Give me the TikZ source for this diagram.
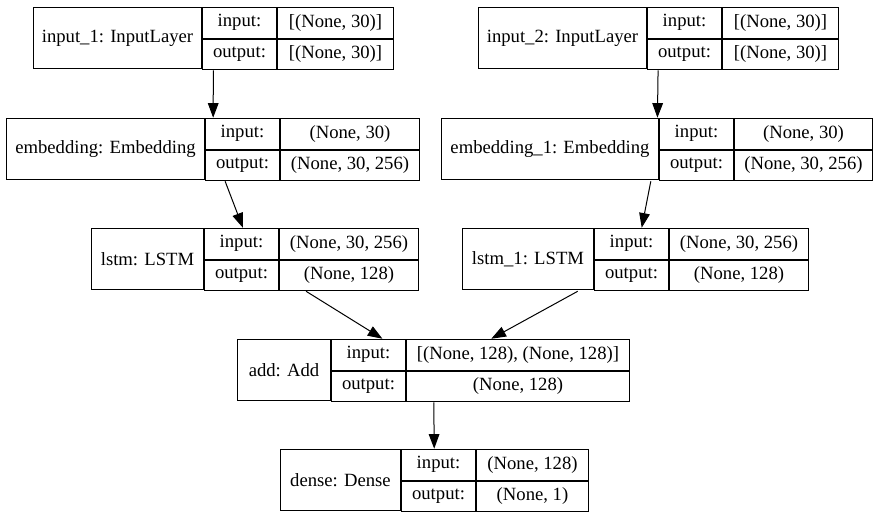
\documentclass[tikz,border=0pt]{standalone}
\usepackage{fontspec}
\setmainfont{Liberation Serif}
\usetikzlibrary{positioning,fit,arrows.meta}

\tikzset{
  lname/.style={draw, line width=0.75pt, inner sep=0pt, minimum height=45.75pt, anchor=north west},
  lport/.style={draw, line width=0.75pt, inner sep=0pt, minimum height=22.875pt, minimum width=55.5pt, anchor=north west},
  lshape/.style={draw, line width=0.75pt, inner sep=0pt, minimum height=22.875pt, anchor=north west},
  lbox/.style={inner sep=0pt},
  arr/.style={-{Triangle[length=11pt,width=8pt]}, line width=0.75pt}
}

\begin{document}
\begin{tikzpicture}[x=0.75pt,y=-0.75pt,every node/.style={font=\fontsize{14}{16}\selectfont}]
\useasboundingbox (0,0) rectangle (877,514);

% input_1
\node[lname, minimum width=126pt] (in1) at (33,7) {input\_1: InputLayer};
\node[lport] (in1i) at (in1.north east) {input:};
\node[lport] (in1o) at (in1i.south west) {output:};
\node[lshape, minimum width=87pt] (in1iv) at (in1i.north east) {[(None, 30)]};
\node[lshape, minimum width=87pt] (in1ov) at (in1o.north east) {[(None, 30)]};
\node[lbox, fit=(in1)(in1ov)] (in1box) {};

% input_2
\node[lname, minimum width=126pt] (in2) at (478,7) {input\_2: InputLayer};
\node[lport] (in2i) at (in2.north east) {input:};
\node[lport] (in2o) at (in2i.south west) {output:};
\node[lshape, minimum width=87pt] (in2iv) at (in2i.north east) {[(None, 30)]};
\node[lshape, minimum width=87pt] (in2ov) at (in2o.north east) {[(None, 30)]};
\node[lbox, fit=(in2)(in2ov)] (in2box) {};

% embedding
\node[lname, minimum width=148.5pt] (emb) at (6,118) {embedding: Embedding};
\node[lport] (embi) at (emb.north east) {input:};
\node[lport] (embo) at (embi.south west) {output:};
\node[lshape, minimum width=104.25pt] (embiv) at (embi.north east) {(None, 30)};
\node[lshape, minimum width=104.25pt] (embov) at (embo.north east) {(None, 30, 256)};
\node[lbox, fit=(emb)(embov)] (embbox) {};

% embedding_1
\node[lname, minimum width=162.75pt] (emb1) at (441,118) {embedding\_1: Embedding};
\node[lport] (emb1i) at (emb1.north east) {input:};
\node[lport] (emb1o) at (emb1i.south west) {output:};
\node[lshape, minimum width=103.5pt] (emb1iv) at (emb1i.north east) {(None, 30)};
\node[lshape, minimum width=103.5pt] (emb1ov) at (emb1o.north east) {(None, 30, 256)};
\node[lbox, fit=(emb1)(emb1ov)] (emb1box) {};

% lstm
\node[lname, minimum width=84pt] (lstm) at (91,228) {lstm: LSTM};
\node[lport] (lstmi) at (lstm.north east) {input:};
\node[lport] (lstmo) at (lstmi.south west) {output:};
\node[lshape, minimum width=104.25pt] (lstmiv) at (lstmi.north east) {(None, 30, 256)};
\node[lshape, minimum width=104.25pt] (lstmov) at (lstmo.north east) {(None, 128)};
\node[lbox, fit=(lstm)(lstmov)] (lstmbox) {};

% lstm_1
\node[lname, minimum width=98.25pt] (lstm1) at (462,228) {lstm\_1: LSTM};
\node[lport] (lstm1i) at (lstm1.north east) {input:};
\node[lport] (lstm1o) at (lstm1i.south west) {output:};
\node[lshape, minimum width=104.25pt] (lstm1iv) at (lstm1i.north east) {(None, 30, 256)};
\node[lshape, minimum width=104.25pt] (lstm1ov) at (lstm1o.north east) {(None, 128)};
\node[lbox, fit=(lstm1)(lstm1ov)] (lstm1box) {};

% add
\node[lname, minimum width=69.75pt] (add) at (237,339) {add: Add};
\node[lport] (addi) at (add.north east) {input:};
\node[lport] (addo) at (addi.south west) {output:};
\node[lshape, minimum width=167.25pt] (addiv) at (addi.north east) {[(None, 128), (None, 128)]};
\node[lshape, minimum width=167.25pt] (addov) at (addo.north east) {(None, 128)};
\node[lbox, fit=(add)(addov)] (addbox) {};

% dense
\node[lname, minimum width=90pt] (dense) at (280,449) {dense: Dense};
\node[lport] (densei) at (dense.north east) {input:};
\node[lport] (denseo) at (densei.south west) {output:};
\node[lshape, minimum width=84pt] (denseiv) at (densei.north east) {(None, 128)};
\node[lshape, minimum width=84pt] (denseov) at (denseo.north east) {(None, 1)};
\node[lbox, fit=(dense)(denseov)] (densebox) {};

% edges
\draw[arr] (in1box) -- (embbox);
\draw[arr] (in2box) -- (emb1box);
\draw[arr] (embbox) -- (lstmbox);
\draw[arr] (emb1box) -- (lstm1box);
\draw[arr] (lstmbox) -- (addbox);
\draw[arr] (lstm1box) -- (addbox);
\draw[arr] (addbox) -- (densebox);
\end{tikzpicture}
\end{document}
